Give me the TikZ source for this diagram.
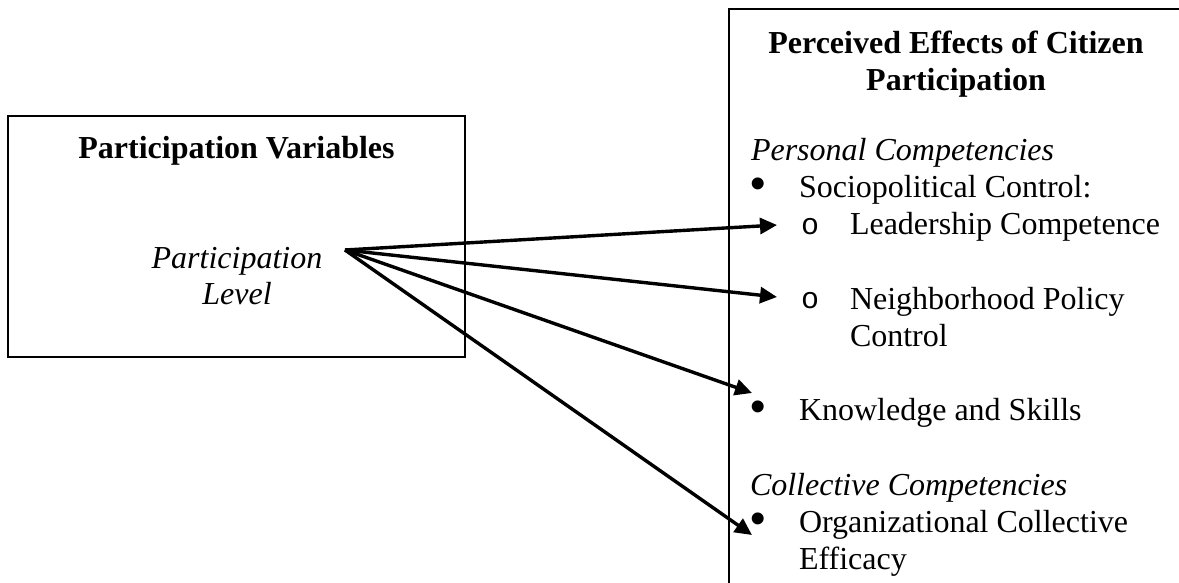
\documentclass[tikz,border=0pt]{standalone}
\usepackage{fontspec}
\setmainfont{Liberation Serif}
\newfontfamily\dotfont{Liberation Sans}
\newfontfamily\ringfont{Liberation Mono}
\usetikzlibrary{arrows.meta}
\begin{document}
\begin{tikzpicture}[x=1pt,y=-1pt,
  every node/.style={inner sep=0pt, outer sep=0pt, font=\fontsize{32}{37}\selectfont},
  boxline/.style={draw, line width=2pt, rectangle},
  head/.style={anchor=base, font=\fontsize{32}{37}\selectfont\bfseries},
  item/.style={anchor=base west},
  cat/.style={anchor=base west, font=\fontsize{32}{37}\selectfont\itshape},
  dot/.style={anchor=center, font=\fontsize{44}{44}\dotfont},
  ring/.style={anchor=center, font=\fontsize{30}{30}\ringfont},
  link/.style={line width=3.4pt, -{Triangle[length=17pt,width=16pt]}}]
\useasboundingbox (0,0) rectangle (1179,582);
\clip (0,0) rectangle (1179,582);
\fill[white] (0,0) rectangle (1179,582);

% left box: predictor
\node[boxline, anchor=north west, minimum width=457pt, minimum height=241pt] (pv) at (8,116) {};
\node[head] (pvtitle) at (236.5,158.5) {Participation Variables};
\node[anchor=base, font=\fontsize{32}{37}\selectfont\itshape] (pl1) at (237,268) {Participation};
\node[anchor=base, font=\fontsize{32}{37}\selectfont\itshape] (pl2) at (237,304) {Level};

% right box: outcomes (runs past the right and bottom edges)
\node[boxline, anchor=north west, minimum width=454pt, minimum height=620pt] (eff) at (729,9) {};
\node[head] (efft1) at (956,53) {Perceived Effects of Citizen};
\node[head] (efft2) at (956,90) {Participation};

\node[cat] (pers) at (751,160.5) {Personal Competencies};
\node[dot] (b1) at (758,188) {•};
\node[item] (soc) at (799,197.7) {Sociopolitical Control:};
\node[ring] (o1) at (810,227) {o};
\node[item] (lead) at (850,234.9) {Leadership Competence};
\node[ring] (o2) at (810,301) {o};
\node[item] (nbh) at (850,309.3) {Neighborhood Policy};
\node[item] (nbh2) at (850,346.5) {Control};
\node[dot] (b2) at (758,411) {•};
\node[item] (know) at (799,420.9) {Knowledge and Skills};
\node[cat] (coll) at (750,495.3) {Collective Competencies};
\node[dot] (b3) at (758,523) {•};
\node[item] (org) at (799,532.5) {Organizational Collective};
\node[item] (org2) at (799,569.7) {Efficacy};

% arrows fanning out from the participation level
\coordinate (src) at (345,250);
\coordinate (t1) at (777,225);
\coordinate (t2) at (777,297);
\coordinate (t3) at (752,393);
\coordinate (t4) at (752,535);
\draw[link] (src) -- (t1);
\draw[link] (src) -- (t2);
\draw[link] (src) -- (t3);
\draw[link] (src) -- (t4);
\end{tikzpicture}
\end{document}
